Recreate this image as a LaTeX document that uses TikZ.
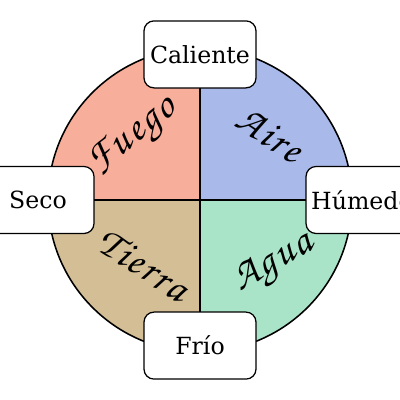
\documentclass[tikz,border=0pt]{standalone}
\usepackage[T1,TU]{fontenc}
\usepackage{fontspec}
\newfontfamily\etiqueta{DejaVu Serif}
\usepackage{tikz}
\definecolor{fuego}{RGB}{247,174,155}
\definecolor{aire}{RGB}{169,185,233}
\definecolor{tierra}{RGB}{212,190,150}
\definecolor{agua}{RGB}{170,228,200}
\newcommand{\sep}{\kern1.8pt}
\begin{document}
\begin{tikzpicture}[
  box/.style={draw, fill=white, rounded corners=0.25cm, minimum width=2.8cm,
    minimum height=1.675cm, line width=0.9pt, font=\etiqueta\fontsize{16.8}{20}\selectfont},
  elemento/.style={font=\fontencoding{T1}\fontfamily{pzc}\fontseries{mb}\fontshape{it}\fontsize{29.5}{32}\selectfont}
]
  \useasboundingbox (-5,-5) rectangle (5,5);
  \clip (-5,-5) rectangle (5,5);
  \coordinate (O) at (0,0);
  \fill[fuego] (O) -- (180:3.8) arc[start angle=180, end angle=90, radius=3.8] -- cycle;
  \fill[aire] (O) -- (90:3.8) arc[start angle=90, end angle=0, radius=3.8] -- cycle;
  \fill[agua] (O) -- (0:3.8) arc[start angle=0, end angle=-90, radius=3.8] -- cycle;
  \fill[tierra] (O) -- (-90:3.8) arc[start angle=-90, end angle=-180, radius=3.8] -- cycle;
  \draw[line width=1.1pt] (O) circle[radius=3.8];
  \coordinate (n) at (90:3.8);
  \coordinate (s) at (-90:3.8);
  \coordinate (w) at (180:3.8);
  \coordinate (e) at (0:3.8);
  \draw[line width=1.1pt] (n) -- (s);
  \draw[line width=1.1pt] (w) -- (e);
  \node[box] (caliente) at (0,3.64) {Caliente};
  \node[box] (frio) at (0,-3.64) {Frío};
  \node[box] (seco) at (-4.05,0) {Seco};
  \node[box] (humedo) at (4.05,0) {Húmedo};
  \node[elemento, rotate=38] (fuegotxt) at (-1.64,1.56) {F\sep u\sep e\sep g\sep o};
  \node[elemento, rotate=-33] (airetxt) at (1.74,1.64) {A\sep i\sep r\sep e};
  \node[elemento, rotate=-33] (tierratxt) at (-1.41,-1.61) {T\sep i\sep e\sep r\sep r\sep a};
  \node[elemento, rotate=30] (aguatxt) at (1.86,-1.61) {A\sep g\sep u\sep a};
\end{tikzpicture}
\end{document}
